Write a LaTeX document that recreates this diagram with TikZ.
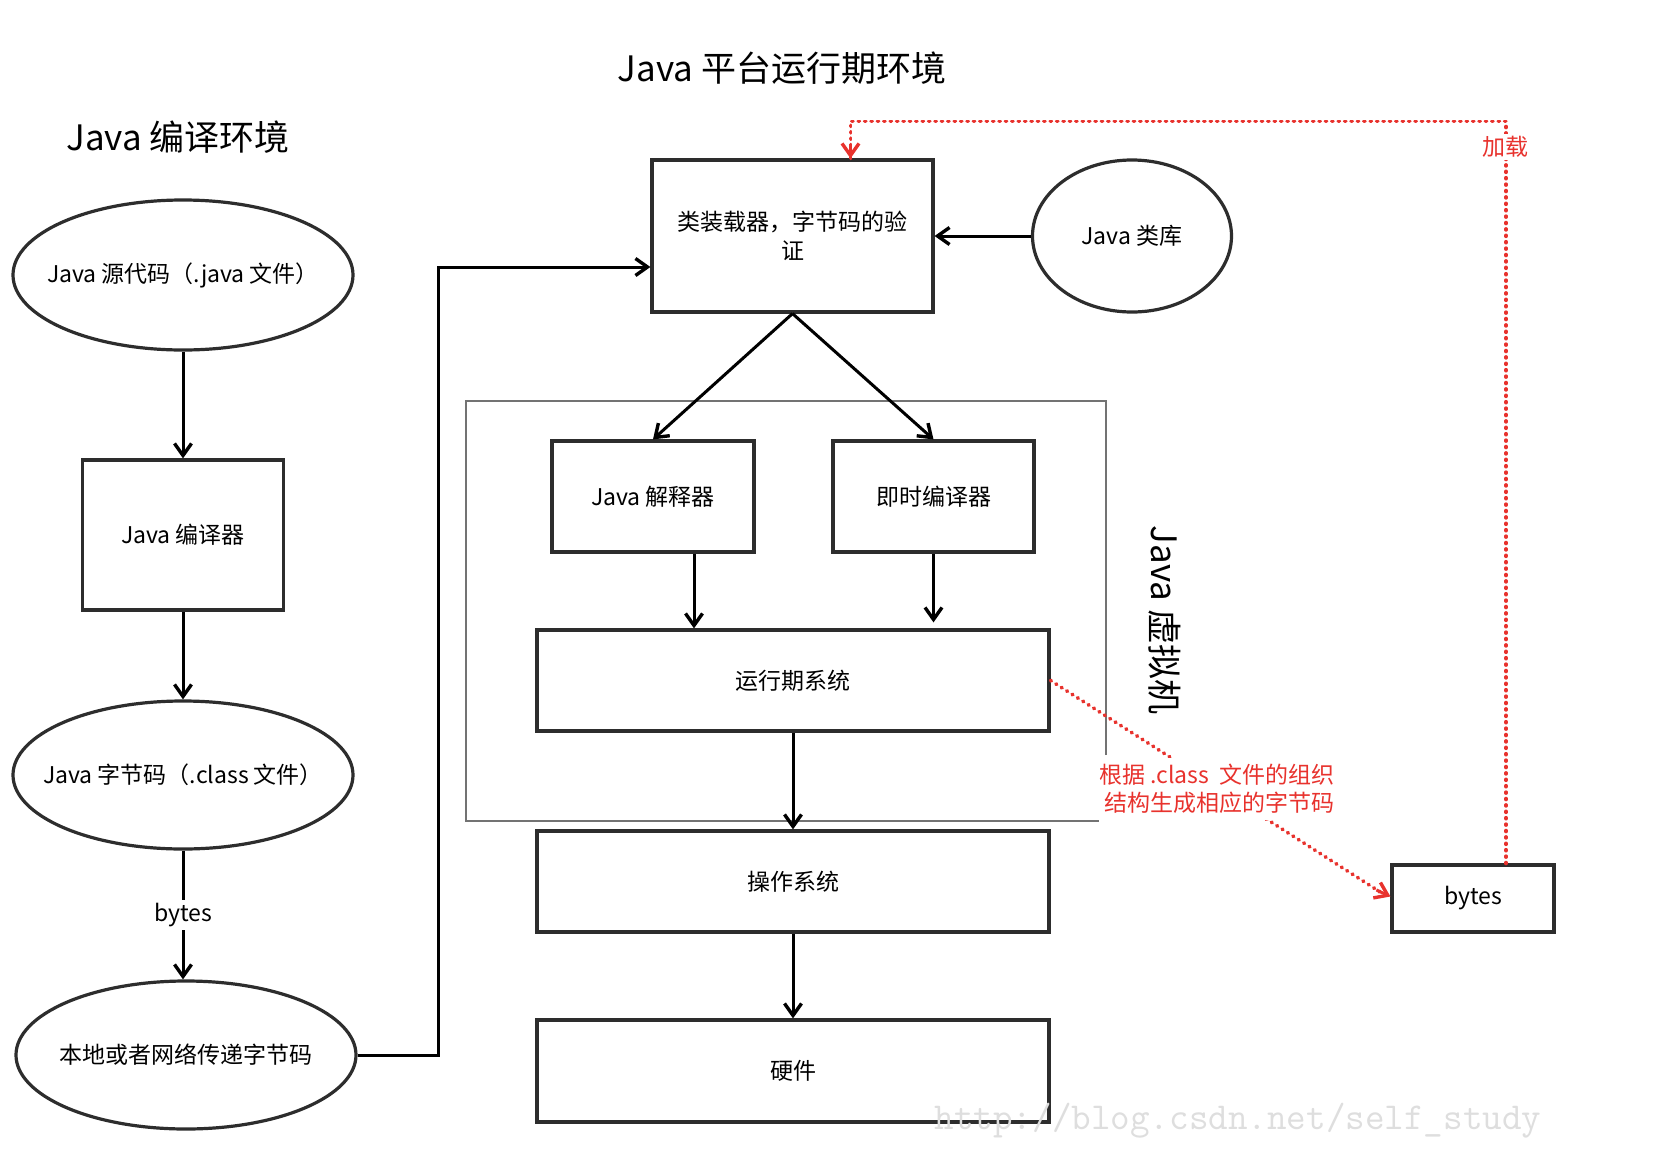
\documentclass[tikz,border=0pt]{standalone}
\usepackage{fontspec}
\setmainfont{Noto Sans CJK SC}
\usetikzlibrary{arrows.meta,shapes.geometric,calc}
\definecolor{lred}{RGB}{232,50,45}
\definecolor{dk}{RGB}{45,45,45}
\begin{document}
\begin{tikzpicture}[x=1pt,y=-1pt,
  txt/.style={font=\fontsize{23}{29}\selectfont, align=center},
  box/.style={txt, draw=dk, line width=3.2pt, rectangle, inner sep=0pt},
  oval/.style={draw=dk, line width=3.2pt, ellipse, inner sep=0pt, label={[txt]center:#1}},
  title/.style={font=\fontsize{35}{40}\selectfont},
  arr/.style={line width=3pt, draw=black, -{Straight Barb[length=12pt,width=17pt,line width=3.4pt]}},
  cont/.style={line width=2pt, draw=black!55},
  rlabel/.style={text=lred, font=\fontsize{23}{28}\selectfont},
  rdot/.style={draw=lred, line width=3.8pt, line cap=round, dash pattern=on 0.8pt off 5.6pt},
  rtip/.style={-{Straight Barb[length=12pt,width=17pt,line width=3.4pt]}}
]
\useasboundingbox (0,0) rectangle (1658,1162);
\fill[white] (0,0) rectangle (1658,1162);

% titles
\node[title] (t1) at (782,68) {Java 平台运行期环境};
\node[title] (t2) at (178,137) {Java 编译环境};
\node[title, rotate=-90] (jvm) at (1165,620) {Java 虚拟机};

% container
\draw[cont] (1106,755) -- (1106,401) -- (466,401) -- (466,821) -- (1099,821);

% left column
\node[oval={Java 源代码（.java 文件）}, minimum width=340pt, minimum height=150pt] (src) at (183,275) {};
\node[box, minimum width=201pt, minimum height=150pt] (javac) at (183,535) {Java 编译器};
\node[oval={Java 字节码（.class 文件）}, minimum width=340pt, minimum height=148pt] (cls) at (183,775) {};
\node[oval={本地或者网络传递字节码}, minimum width=340pt, minimum height=148pt] (net) at (186,1055) {};

% right part
\node[box, minimum width=281pt, minimum height=152pt] (loader) at (792.5,236) {类装载器，字节码的验\\证};
\node[oval={Java 类库}, minimum width=199pt, minimum height=152pt] (lib) at (1132,236) {};
\node[box, minimum width=202pt, minimum height=111pt] (interp) at (653,496.5) {Java 解释器};
\node[box, minimum width=201pt, minimum height=111pt] (jit) at (933.5,496.5) {即时编译器};
\node[box, minimum width=512pt, minimum height=101pt] (runtime) at (793,680.5) {运行期系统};
\node[box, minimum width=512pt, minimum height=101pt] (os) at (793,881.5) {操作系统};
\node[box, minimum width=512pt, minimum height=102pt] (hw) at (793,1071) {硬件};
\node[box, minimum width=162pt, minimum height=67pt] (bytes) at (1473,898.5) {bytes};

% black connectors
\draw[arr] (src.south) -- (javac.north);
\draw[arr] (javac.south) -- (cls.north);
\draw[arr] (cls.south) -- node[txt, fill=white, inner sep=3pt] (blbl) {bytes} (cls.south |- net.north);
\draw[arr] (net.east) -- ++(81,0) |- ($(loader.west)+(0,31)$);
\draw[arr] (lib.west) -- (loader.east);
\draw[arr] (loader.south) -- (interp.north);
\draw[arr] (loader.south) -- (jit.north);
\coordinate (ia) at ($(interp.south)+(41,0)$);
\draw[arr] (ia) -- (ia |- runtime.north);
\draw[arr] (jit.south) -- ($(jit.south |- runtime.north)+(0,-6)$);
\draw[arr] (runtime.south) -- (os.north);
\draw[arr] (os.south) -- (hw.north);

% red connectors
\coordinate (bt) at ($(bytes.north)+(33,0)$);
\coordinate (lt) at ($(loader.north)+(58,0)$);
\draw[rdot] (bt) -- ++(0,-742) -| (lt);
\draw[draw=lred, line width=3pt, rtip] ($(lt)+(0,-14)$) -- (lt);
\node[rlabel, fill=white, inner sep=2pt] (load) at (1505,147) {加载};
\draw[rdot] (runtime.east) -- ($(bytes.west)+(-4,-2.5)$);
\draw[draw=lred, line width=3pt, rtip] ($(bytes.west)+(-14,-8.5)$) -- ($(bytes.west)+(0,-2)$);
\node[rlabel, fill=white, align=right, inner xsep=4pt, inner ysep=6pt] (note) at (1217,789) {根据 .class\ \ 文件的组织\\结构生成相应的字节码};

% watermark
\node[text=black!13, font=\ttfamily\fontsize{38}{38}\selectfont] (wm) at (1238,1121) {http://blog.csdn.net/self\_study};
\end{tikzpicture}
\end{document}
